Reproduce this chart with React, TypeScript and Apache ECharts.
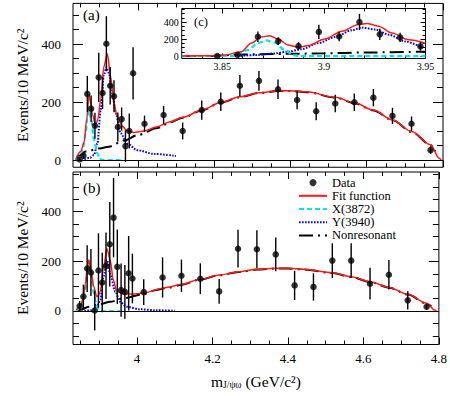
import React, { useEffect, useRef } from 'react';
import * as echarts from 'echarts';

// ---------- data ----------
const binCenters = [3.8475, 3.8575, 3.8675, 3.8775, 3.8875, 3.8975, 3.9075, 3.9175, 3.9275, 3.9375, 3.9475, 3.9575, 3.9675, 3.9775, 3.9875, 4.0175, 4.0675, 4.1175, 4.1675, 4.2175, 4.2675, 4.3175, 4.3675, 4.4175, 4.4675, 4.5175, 4.5675, 4.6175, 4.6675, 4.7175, 4.7675];
const eventsA = [2, 15, 228, 177, 118, 285, 231, 401, 256, 220, 114, 141, 48, 100, 299, 125, 155, 100, 172, 201, 256, 273, 244, 207, 168, 195, 199, 215, 152, 125, 34];
const errorsA = [4, 12, 62, 45, 45, 85, 55, 95, 65, 55, 50, 40, 55, 60, 90, 28, 31, 29, 33, 32, 37, 34, 34, 32, 31, 30, 30, 30, 28, 25, 13];
const eventsB = [20, 58, 171, 155, 2, 163, 115, 182, 269, 376, 178, 84, 77, 152, 131, 76, 135, 142, 130, 79, 251, 249, 228, 103, 97, 203, 203, 110, 146, 43, 17];
const errorsB = [20, 48, 94, 95, 80, 150, 120, 134, 170, 160, 150, 107, 108, 150, 100, 52, 81, 65, 62, 50, 76, 76, 68, 59, 55, 70, 70, 64, 59, 37, 12];

// panel (a) curves [mass, events]
const fitA = [[3.838, 5], [3.85, 29], [3.859, 60], [3.866, 140], [3.872, 225], [3.877, 195], [3.881, 158], [3.889, 120], [3.895, 140], [3.9025, 207], [3.911, 322], [3.92, 366], [3.9286, 290], [3.937, 198], [3.946, 150], [3.959, 116], [3.972, 101], [3.9895, 95], [4.016, 100], [4.051, 115], [4.085, 132], [4.118, 147], [4.168, 172], [4.218, 199], [4.268, 218], [4.318, 232], [4.369, 239], [4.4, 239], [4.443, 235], [4.518, 216], [4.568, 197], [4.618, 172], [4.668, 138], [4.718, 98], [4.768, 52], [4.79, 6], [4.795, 0]];
const x3872A = [[3.838, 0], [3.85, 12], [3.857, 46], [3.863, 92], [3.868, 150], [3.872, 172], [3.878, 138], [3.885, 69], [3.894, 23], [3.9, 3], [3.91, 0], [3.955, 0]];
const y3940A = [[3.86, 2], [3.875, 8], [3.885, 17], [3.894, 57], [3.9025, 172], [3.911, 295], [3.918, 320], [3.924, 300], [3.933, 230], [3.942, 161], [3.955, 92], [3.972, 57], [3.998, 34], [4.042, 21], [4.1, 14]];
const bkgA = [[3.838, 0], [3.845, 14], [3.863, 29], [3.9, 40], [3.924, 46], [3.9636, 67], [4.0, 86], [4.051, 110], [4.085, 130], [4.118, 146], [4.168, 171], [4.218, 198], [4.268, 217], [4.318, 231], [4.369, 238], [4.4, 238], [4.443, 234], [4.518, 215], [4.568, 196], [4.618, 171], [4.668, 137], [4.718, 97], [4.768, 51], [4.78, 30]];

// panel (b) curves
const fitB = [[3.838, 4], [3.85, 17], [3.857, 50], [3.863, 111], [3.868, 175], [3.872, 205], [3.878, 165], [3.885, 98], [3.893, 58], [3.8975, 62], [3.9025, 80], [3.911, 175], [3.92, 252], [3.9286, 205], [3.937, 125], [3.946, 80], [3.9634, 68], [3.9895, 68], [4.02, 74], [4.068, 92], [4.0855, 97], [4.118, 108], [4.168, 128], [4.218, 145], [4.2685, 158], [4.318, 168], [4.369, 172], [4.4, 172], [4.443, 168], [4.518, 154], [4.568, 138], [4.618, 118], [4.668, 95], [4.718, 67], [4.768, 31], [4.789, 4], [4.793, 0]];
const x3872B = [[3.838, 0], [3.85, 10], [3.857, 50], [3.863, 95], [3.868, 165], [3.872, 180], [3.878, 140], [3.885, 70], [3.893, 20], [3.9, 3], [3.91, 0], [3.955, 0]];
const y3940B = [[3.86, 1], [3.876, 2], [3.885, 8], [3.894, 24], [3.9025, 45], [3.911, 140], [3.92, 205], [3.9286, 150], [3.942, 78], [3.955, 37], [3.972, 17], [4.007, 7], [4.051, 3], [4.1, 1]];
const bkgB = [[3.838, 0], [3.85, 5], [3.872, 17], [3.9, 27], [3.929, 37], [3.963, 51], [4.016, 68], [4.051, 85], [4.0855, 95], [4.118, 106], [4.168, 127], [4.218, 144], [4.2685, 157], [4.318, 167], [4.369, 171], [4.4, 171], [4.443, 167], [4.518, 153], [4.568, 137], [4.618, 117], [4.668, 94], [4.718, 66], [4.768, 30], [4.78, 18]];

// inset (c) curves
const fitC = [[3.83, 2], [3.845, 5], [3.851, 12], [3.8593, 52], [3.8642, 152], [3.8692, 224], [3.8733, 240], [3.8774, 200], [3.8823, 132], [3.8873, 104], [3.8922, 124], [3.9005, 200], [3.9088, 292], [3.917, 372], [3.9211, 384], [3.9269, 352], [3.9335, 272], [3.9417, 192], [3.95, 152]];
const x3872C = [[3.83, 0], [3.856, 3], [3.8626, 72], [3.8675, 152], [3.8716, 184], [3.8757, 160], [3.8807, 72], [3.8848, 12], [3.888, 0], [3.95, 0]];
const y3940C = [[3.856, 0], [3.866, 12], [3.8757, 32], [3.8823, 52], [3.8889, 80], [3.8972, 152], [3.9054, 224], [3.9137, 304], [3.9187, 336], [3.9253, 312], [3.9319, 252], [3.9402, 172], [3.9485, 95]];
const bkgC = [[3.83, 0], [3.845, 2], [3.855, 14], [3.866, 22], [3.885, 27], [3.9, 33], [3.92, 43], [3.95, 52]];

// ticks and labels
const xMajorMain = [4.0, 4.2, 4.4, 4.6, 4.8];
const xMinorMain = [3.85, 3.9, 3.95, 4.05, 4.1, 4.15, 4.25, 4.3, 4.35, 4.45, 4.5, 4.55, 4.65, 4.7, 4.75];
const yMajor = [0, 200, 400];
const yMinorA = [50, 100, 150, 250, 300, 350, 450, 500];
const yMinorB = [-100, -50, 50, 100, 150, 250, 300, 350, 450, 500, 550];
const xMajorInset = [3.85, 3.9, 3.95];
const xMinorInset = [3.84, 3.86, 3.87, 3.88, 3.89, 3.91, 3.92, 3.93, 3.94];
const yMinorInset = [50, 100, 150, 250, 300, 350, 450, 500, 550];
const legendNames = ['Data', 'Fit function', 'X(3872)', 'Y(3940)', 'Nonresonant'];

const FONT = '"Liberation Serif", "Times New Roman", serif';

const axisBase = (gridIndex: number, min: number, max: number) => ({
  type: 'value', gridIndex, min, max,
  axisLine: { show: false, onZero: false },
  splitLine: { show: false },
  minorTick: { show: false },
});
const tick = (len: number, values: number[]) => ({
  show: true, inside: true, length: len, customValues: values,
  lineStyle: { color: '#000', width: 1 },
});

function xAxes(g: number, min: number, max: number, major: number[], minor: number[], mj: number, mn: number, label: any, extra: any = {}) {
  return [
    { ...axisBase(g, min, max), position: 'bottom', axisTick: tick(mj, major), axisLabel: label, ...extra },
    { ...axisBase(g, min, max), position: 'bottom', axisTick: tick(mn, minor), axisLabel: { show: false } },
    { ...axisBase(g, min, max), position: 'top', axisTick: tick(mj, major), axisLabel: { show: false } },
    { ...axisBase(g, min, max), position: 'top', axisTick: tick(mn, minor), axisLabel: { show: false } },
  ];
}
function yAxes(g: number, min: number, max: number, major: number[], minor: number[], mj: number, mn: number, label: any, extra: any = {}) {
  return [
    { ...axisBase(g, min, max), position: 'left', axisTick: tick(mj, major), axisLabel: label, ...extra },
    { ...axisBase(g, min, max), position: 'left', axisTick: tick(mn, minor), axisLabel: { show: false } },
    { ...axisBase(g, min, max), position: 'right', axisTick: tick(mj, major), axisLabel: { show: false } },
    { ...axisBase(g, min, max), position: 'right', axisTick: tick(mn, minor), axisLabel: { show: false } },
  ];
}

const yTitle = {
  name: 'Events/10 MeV/c²', nameLocation: 'middle', nameRotate: 90, nameGap: 42,
  nameTextStyle: { fontFamily: FONT, fontSize: 15.5, color: '#000' },
};

function panelSeries(ai: number, events: number[], errors: number[], fit: number[][], xc: number[][], yc: number[][], bkg: number[][], maxMass: number) {
  const pts: number[][] = [];
  binCenters.forEach((m, i) => { if (m <= maxMass) pts.push([m, events[i], errors[i]]); });
  const common = { xAxisIndex: ai, yAxisIndex: ai, silent: true, animation: false };
  const line = (name: string, data: number[][], color: string, width: number, type: any, z: number) => ({
    ...common, type: 'line', name, data, symbol: 'none', showSymbol: false, smooth: 0.3, smoothMonotone: 'x',
    lineStyle: { color, width, type }, itemStyle: { color }, z,
  });
  return [
    {
      ...common, type: 'custom', z: 5, encode: { x: 0, y: 1 }, data: pts,
      renderItem: (_p: any, api: any) => {
        const m = api.value(0), v = api.value(1), e = api.value(2);
        const a = api.coord([m, v - e]);
        const b = api.coord([m, v + e]);
        return { type: 'line', shape: { x1: a[0], y1: a[1], x2: b[0], y2: b[1] }, style: { stroke: '#000', lineWidth: 1.4 } };
      },
      markLine: {
        silent: true, symbol: 'none', animation: false, label: { show: false },
        lineStyle: { color: '#000', width: 1, type: 'solid' }, data: [{ yAxis: 0 }],
      },
    },
    line('Nonresonant', bkg, '#000000', 2, [14, 5, 2, 5], 3),
    line('Y(3940)', yc, '#0000ff', 2, [1.6, 1.4], 3),
    line('X(3872)', xc, '#00e5ee', 2.2, [5, 3], 3),
    line('Fit function', fit, '#ff1a1a', 1.5, 'solid', 4),
    {
      ...common, type: 'scatter', name: 'Data', data: pts.map((p) => [p[0], p[1]]),
      symbol: 'circle', symbolSize: 6.5, itemStyle: { color: '#000' }, z: 6,
    },
  ];
}

const option: any = {
  animation: false,
  backgroundColor: '#ffffff',
  grid: [
    { left: 73, width: 370, top: 3.4, height: 163.85, show: true, borderColor: '#000', borderWidth: 1, backgroundColor: 'transparent' },
    { left: 73, width: 370, top: 172, height: 172.5, show: true, borderColor: '#000', borderWidth: 1, backgroundColor: 'transparent' },
    { left: 181.7, width: 243.8, top: 8.5, height: 50, show: true, borderColor: '#000', borderWidth: 1, backgroundColor: '#ffffff', z: 10 },
  ],
  xAxis: [
    ...xAxes(0, 3.83, 4.8, xMajorMain, xMinorMain, 7, 4, { show: false }),
    ...xAxes(1, 3.83, 4.8, xMajorMain, xMinorMain, 7, 4, {
      show: true, customValues: xMajorMain, margin: 7, color: '#000', fontFamily: FONT, fontSize: 13,
      formatter: (v: number) => String(v),
    }, {
      name: '{m|m}{s|J/ψω}{t| (GeV/c²)}', nameLocation: 'middle', nameGap: 27,
      nameTextStyle: {
        rich: {
          m: { fontFamily: FONT, fontSize: 15.5, color: '#000', lineHeight: 18, verticalAlign: 'bottom' },
          s: { fontFamily: FONT, fontSize: 9.5, color: '#000', lineHeight: 9, verticalAlign: 'bottom' },
          t: { fontFamily: FONT, fontSize: 15.5, color: '#000', lineHeight: 18, verticalAlign: 'bottom' },
        },
      },
    }),
    ...xAxes(2, 3.83, 3.95, xMajorInset, xMinorInset, 5, 3, {
      show: true, customValues: xMajorInset, margin: 3, color: '#000', fontFamily: FONT, fontSize: 10,
      formatter: (v: number) => String(v),
    }),
  ].map((a: any) => (a.gridIndex === 2 ? { ...a, z: 11 } : a)),
  yAxis: [
    ...yAxes(0, -25, 540, yMajor, yMinorA, 10, 6, {
      show: true, customValues: yMajor, margin: 12, color: '#000', fontFamily: FONT, fontSize: 13,
    }, yTitle),
    ...yAxes(1, -135, 560, yMajor, yMinorB, 10, 6, {
      show: true, customValues: yMajor, margin: 12, color: '#000', fontFamily: FONT, fontSize: 13,
    }, yTitle),
    ...yAxes(2, -28, 560, yMajor, yMinorInset, 5, 3, {
      show: true, customValues: yMajor, margin: 3, color: '#000', fontFamily: FONT, fontSize: 10,
    }),
  ].map((a: any) => (a.gridIndex === 2 ? { ...a, z: 11 } : a)),
  legend: {
    show: true, orient: 'vertical', left: 293, top: 171,
    itemWidth: 28, itemHeight: 7, itemGap: 0, selectedMode: false,
    textStyle: { fontFamily: FONT, fontSize: 12.5, color: '#000', lineHeight: 13.2, height: 13.2 },
    data: legendNames.map((n, i) => (i === 0 ? { name: n } : { name: n, itemStyle: { opacity: 0 } })),
  },
  graphic: [
    { type: 'text', x: 83, y: 15, z: 20, style: { text: '(a)', fontFamily: FONT, fontSize: 15, fill: '#000', verticalAlign: 'middle' } },
    { type: 'text', x: 83, y: 188, z: 20, style: { text: '(b)', fontFamily: FONT, fontSize: 15, fill: '#000', verticalAlign: 'middle' } },
    { type: 'text', x: 194, y: 22, z: 20, style: { text: '(c)', fontFamily: FONT, fontSize: 12.5, fill: '#000', verticalAlign: 'middle' } },
  ],
  series: [
    ...panelSeries(4, eventsB, errorsB, fitB, x3872B, y3940B, bkgB, 5),
    ...panelSeries(0, eventsA, errorsA, fitA, x3872A, y3940A, bkgA, 5),
    ...panelSeries(8, eventsA, errorsA, fitC, x3872C, y3940C, bkgC, 3.95).map((s: any) => ({ ...s, z: (s.z || 2) + 10 })),
  ],
};

export default function App() {
  const ref = useRef<HTMLDivElement>(null);
  useEffect(() => {
    if (!ref.current) return;
    const chart = echarts.init(ref.current, null, { renderer: 'svg', width: 450, height: 396 });
    chart.setOption(option);
    return () => chart.dispose();
  }, []);
  return <div ref={ref} style={{ position: 'fixed', left: 0, top: 0, width: 450, height: 396, background: '#fff' }} />;
}
